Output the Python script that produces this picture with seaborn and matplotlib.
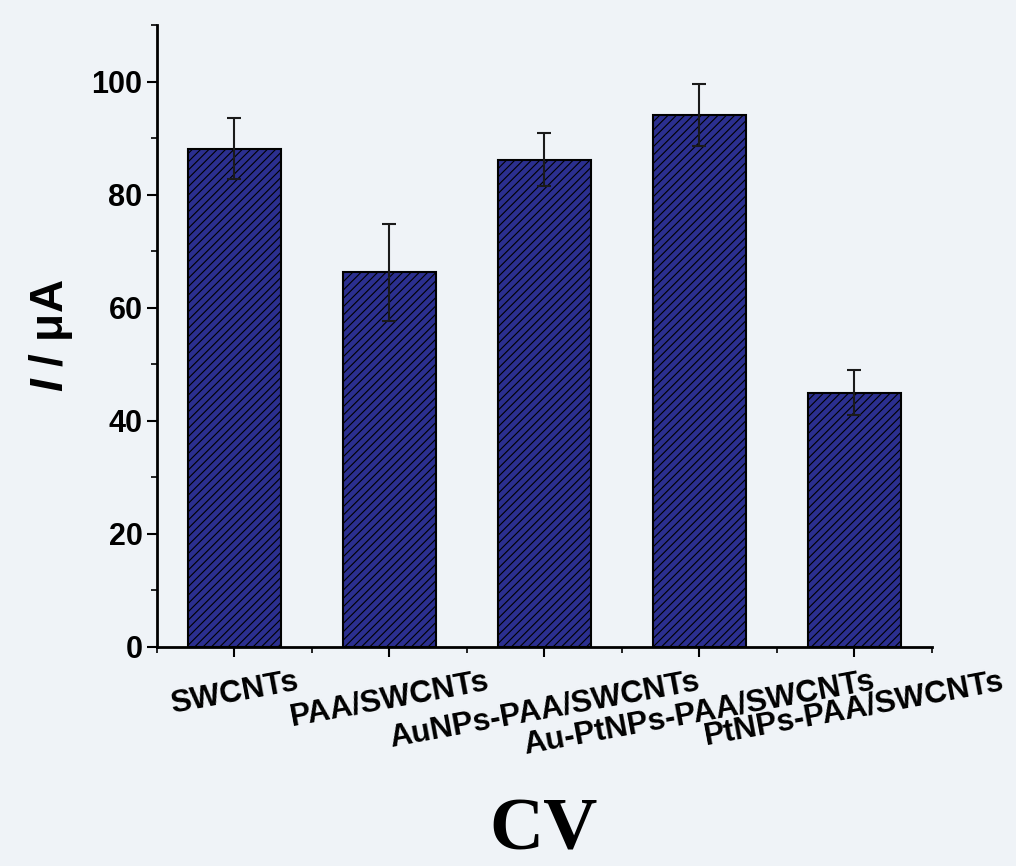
import pandas as pd
import matplotlib.pyplot as plt
from matplotlib.ticker import MultipleLocator
import seaborn as sns

sns.set_style("ticks")
plt.rcParams['font.family'] = ['Liberation Sans', 'DejaVu Sans']
plt.rcParams['hatch.linewidth'] = 0.8
plt.rcParams['mathtext.fontset'] = 'custom'
plt.rcParams['mathtext.rm'] = 'Liberation Sans:bold'
plt.rcParams['mathtext.bfit'] = 'Liberation Sans:italic:bold'
for k in ['text.color', 'axes.labelcolor', 'xtick.color', 'ytick.color', 'axes.edgecolor']:
    plt.rcParams[k] = 'black'

# data
samples = ['SWCNTs', 'PAA/SWCNTs', 'AuNPs-PAA/SWCNTs', 'Au-PtNPs-PAA/SWCNTs', 'PtNPs-PAA/SWCNTs']
current = [88.1, 66.3, 86.2, 94.1, 45.0]
error = [5.4, 8.6, 4.7, 5.4, 3.9]

df = pd.DataFrame({'sample': samples, 'current': current, 'error': error})

bg = '#eff3f7'
fig = plt.figure(figsize=(10.16, 8.66), dpi=100, facecolor=bg)
ax = fig.add_axes([0.1545, 0.253, 0.7625, 0.718])
ax.set_facecolor(bg)

sns.barplot(data=df, x='sample', y='current', color='#2b2f8f', width=0.6,
            edgecolor='black', linewidth=1.5, hatch='////', errorbar=None,
            saturation=1, ax=ax)
ax.errorbar(range(len(samples)), df['current'], yerr=df['error'], fmt='none',
            ecolor='#1a1a1a', elinewidth=1.5, capsize=5, capthick=1.5, zorder=5)

ax.set_xlim(-0.5, 4.5)
ax.set_ylim(0, 110)
ax.yaxis.set_major_locator(MultipleLocator(20))
ax.yaxis.set_minor_locator(MultipleLocator(10))
ax.xaxis.set_minor_locator(MultipleLocator(0.5))
for s in ['top', 'right']:
    ax.spines[s].set_visible(False)
for s in ['left', 'bottom']:
    ax.spines[s].set_linewidth(2)
ax.tick_params(which='major', length=7, width=1.5, labelsize=22)
ax.tick_params(which='minor', length=4, width=1.2)
ax.tick_params(axis='x', which='major', pad=7)
ax.set_xticks(range(len(samples)))
ax.set_xticklabels(samples, rotation=10.5, ha='center', fontweight='bold', fontsize=22.5)
for lbl in ax.get_yticklabels():
    lbl.set_fontweight('bold')

ax.set_ylabel(r'$\mathbfit{I}$ / μA', fontsize=33, fontweight='bold', labelpad=12)
ax.set_xlabel('')
fig.text(0.535, 0.04, 'CV', fontsize=54, fontweight='bold', family='Liberation Serif',
         ha='center', va='center')

fig.savefig('out.png', dpi=100, facecolor=bg)
